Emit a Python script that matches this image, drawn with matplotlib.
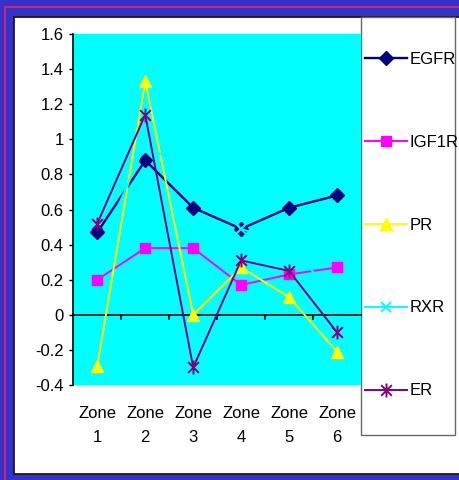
import matplotlib
matplotlib.use("Agg")
import matplotlib.pyplot as plt
from matplotlib.patches import Rectangle
from matplotlib.lines import Line2D
from matplotlib.path import Path

# Category labels and series values
zones = ["Zone\n1", "Zone\n2", "Zone\n3", "Zone\n4", "Zone\n5", "Zone\n6"]
egfr = [0.47, 0.88, 0.61, 0.49, 0.61, 0.68]
igf1r = [0.20, 0.38, 0.38, 0.17, 0.23, 0.27]
pr = [-0.29, 1.33, 0.00, 0.27, 0.10, -0.21]
rxr = [0.35, 0.97, 0.80, 0.49, 0.40, 0.09]
er = [0.52, 1.14, -0.30, 0.31, 0.25, -0.10]
y_ticks = [-0.4, -0.2, 0, 0.2, 0.4, 0.6, 0.8, 1, 1.2, 1.4, 1.6]

W, H = 459, 480
fig = plt.figure(figsize=(W / 100, H / 100), dpi=100, facecolor="#3333CC")

def fx(px):
    return px / W

def fy(py):
    return 1 - py / H

# Slide frame: red accent line and white chart panel
fig.add_artist(Line2D([fx(5), fx(5), 1.0], [0, fy(7), fy(7)],
                      transform=fig.transFigure, color="#E8206A", lw=1.3,
                      zorder=-3))
fig.add_artist(Rectangle((fx(14), fy(474)), 1.0, fy(17) - fy(474),
                         transform=fig.transFigure, facecolor="white",
                         edgecolor="#1a1a1a", lw=1.3, zorder=-2))

ax = fig.add_axes([fx(73.3), fy(385), fx(361) - fx(73.3), fy(34) - fy(385)])
ax.set_facecolor("#00FFFF")

x = list(range(1, len(zones) + 1))

# asterisk-like marker: an X with a vertical bar
star = Path([(-1, -1), (1, 1), (-1, 1), (1, -1), (0, -1.3), (0, 1.3)],
            [Path.MOVETO, Path.LINETO, Path.MOVETO, Path.LINETO,
             Path.MOVETO, Path.LINETO])

ax.plot(x, egfr, color="#000080", lw=1.7, marker="D", ms=7, label="EGFR")
ax.plot(x, igf1r, color="#FF00FF", lw=1.4, marker="s", ms=7, label="IGF1R")
ax.plot(x, pr, color="#FFFF00", lw=1.4, marker="^", ms=8, label="PR")
ax.plot(x, rxr, color="#00FFFF", lw=1.4, marker="x", ms=7, mew=1.4, label="RXR")
ax.plot(x, er, color="#800080", lw=1.4, marker=star, ms=10, mew=1.4,
        mfc="none", label="ER")

ax.set_xlim(0.5, len(zones) + 0.5)
ax.set_ylim(-0.4, 1.6)
ax.set_yticks(y_ticks)
ax.set_yticklabels([f"{v:g}" for v in y_ticks])

for s in ("top", "right", "bottom"):
    ax.spines[s].set_visible(False)
ax.spines["left"].set_color("black")
ax.spines["left"].set_linewidth(1.2)

ax.tick_params(axis="y", direction="out", length=3, width=1, pad=4,
               labelsize=12, labelfontfamily="Liberation Sans")
ax.set_xticks(x)
ax.set_xticklabels(zones, fontsize=12, family="Liberation Sans", linespacing=1.8)
ax.tick_params(axis="x", length=0, pad=15)

# value axis line at zero with tick marks between categories
zero_ax = ax.secondary_xaxis(0.2)
zero_ax.set_xticks([b + 0.5 for b in x[:-1]])
zero_ax.tick_params(axis="x", direction="out", length=3.5, width=1.2, labelbottom=False)
zero_ax.spines["bottom"].set_linewidth(1.2)

# legend panel
fig.add_artist(Rectangle((fx(361), fy(435)), fx(455) - fx(361), fy(17) - fy(435),
                         transform=fig.transFigure, facecolor="white",
                         edgecolor="#666666", lw=1.0, zorder=-1))
handles, labels = ax.get_legend_handles_labels()
fig.legend(handles, labels, loc="upper left",
           bbox_to_anchor=(fx(365), fy(52)), frameon=False, borderpad=0,
           borderaxespad=0, labelspacing=4.07, handlelength=2.5,
           handletextpad=0.15,
           prop={"family": "Liberation Sans", "size": 12})

fig.savefig("out.png", dpi=100, facecolor=fig.get_facecolor())
